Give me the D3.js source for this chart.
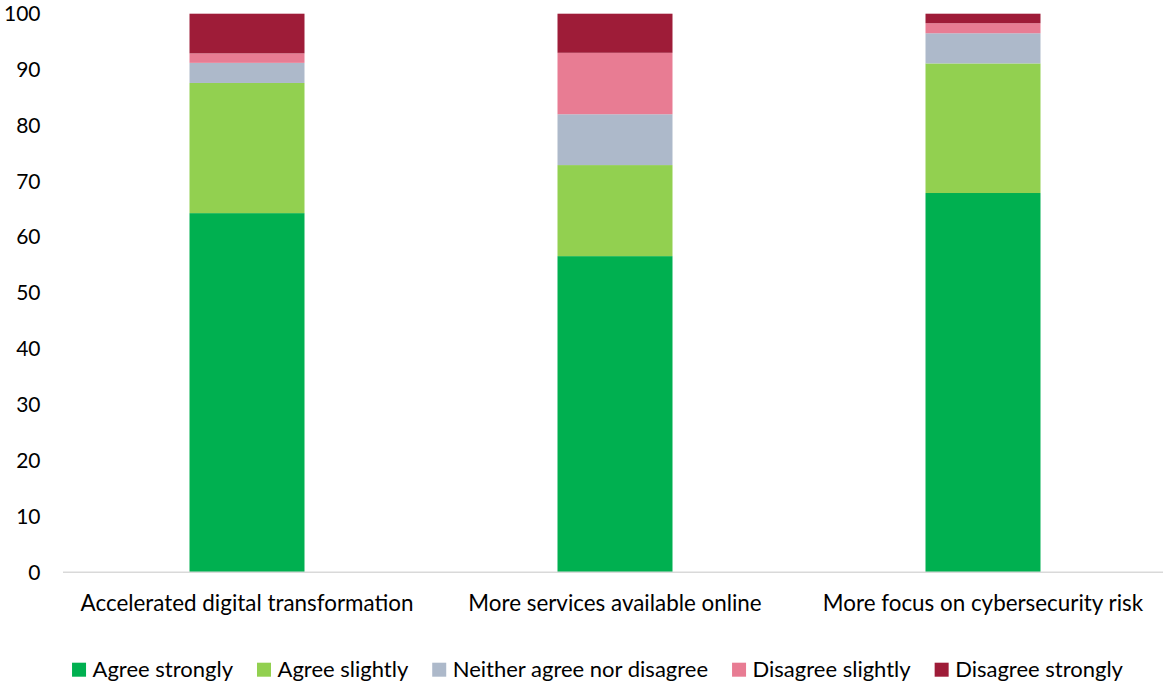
<!DOCTYPE html>
<html><head><meta charset="utf-8">
<script src="https://cdn.jsdelivr.net/npm/d3@7"></script>
<style>body{margin:0;background:#fff;} text{font-family:Lato,"Open Sans",sans-serif;fill:#000;}</style>
</head><body>
<svg id="chart" width="1163" height="686"></svg>
<script>
const categories = ["Accelerated digital transformation","More services available online","More focus on cybersecurity risk"];
const seriesNames = ["Agree strongly","Agree slightly","Neither agree nor disagree","Disagree slightly","Disagree strongly"];
const agreeStrongly = [64.3, 56.6, 67.9];
const agreeSlightly = [23.3, 16.3, 23.2];
const neither = [3.6, 9.1, 5.4];
const disagreeSlightly = [1.7, 11.0, 1.8];
const disagreeStrongly = [7.1, 7.0, 1.7];
const yTicks = [0,10,20,30,40,50,60,70,80,90,100];
const colors = ["#00B050","#92D050","#ADB9CA","#E87C93","#9E1C38"];

const seriesValues = [agreeStrongly, agreeSlightly, neither, disagreeSlightly, disagreeStrongly];
const rows = categories.map((c,i)=>{const r={cat:c}; seriesNames.forEach((s,j)=>r[s]=seriesValues[j][i]); return r;});
const stacked = d3.stack().keys(seriesNames)(rows);

const svg = d3.select("#chart");
const x = d3.scaleBand().domain(categories).range([63,1167]).paddingInner(0.6875).paddingOuter(0.34375);
const y = d3.scaleLinear().domain([0,100]).range([572.3,13.7]);

// y axis labels
const yAxis = d3.axisLeft(y).tickValues(yTicks).tickSize(0).tickPadding(0);
const yg = svg.append("g").attr("transform","translate(40.5,0)").call(yAxis);
yg.select(".domain").remove();
yg.selectAll("text").attr("font-size",21).attr("font-family","Lato").attr("fill","#000");

// bars
const color = d3.scaleOrdinal().domain(seriesNames).range(colors);
svg.append("g").selectAll("g").data(stacked).join("g").attr("fill",d=>color(d.key))
  .selectAll("rect").data(d=>d).join("rect")
  .attr("x",d=>x(d.data.cat)).attr("width",x.bandwidth())
  .attr("y",d=>y(d[1])).attr("height",d=>y(d[0])-y(d[1]));

// x axis
const xAxis = d3.axisBottom(x).tickSize(0);
const xg = svg.append("g").attr("transform","translate(0,572.3)").call(xAxis);
xg.select(".domain").attr("stroke","#D9D9D9").attr("stroke-width",1.5).attr("d","M63,0H1163");
xg.selectAll("text").attr("y",38.7).attr("dy",0).attr("font-size",22.4).attr("font-family","Lato").attr("fill","#000");

// legend
const lg = svg.append("g").attr("transform","translate(0,677.3)");
let lx = 0;
const gap = 24;
seriesNames.forEach((s,i)=>{
  const g = lg.append("g").attr("class","item").attr("transform",`translate(${lx},0)`);
  g.append("rect").attr("x",0).attr("y",-14.6).attr("width",14).attr("height",14).attr("fill",colors[i]);
  const t = g.append("text").attr("x",20.5).attr("y",0).attr("font-size",22).text(s);
  lx += 20.5 + t.node().getComputedTextLength() + gap;
});
const total = lx - gap;
lg.attr("transform",`translate(${597.5 - total/2},677.3)`);
</script>
</body></html>
